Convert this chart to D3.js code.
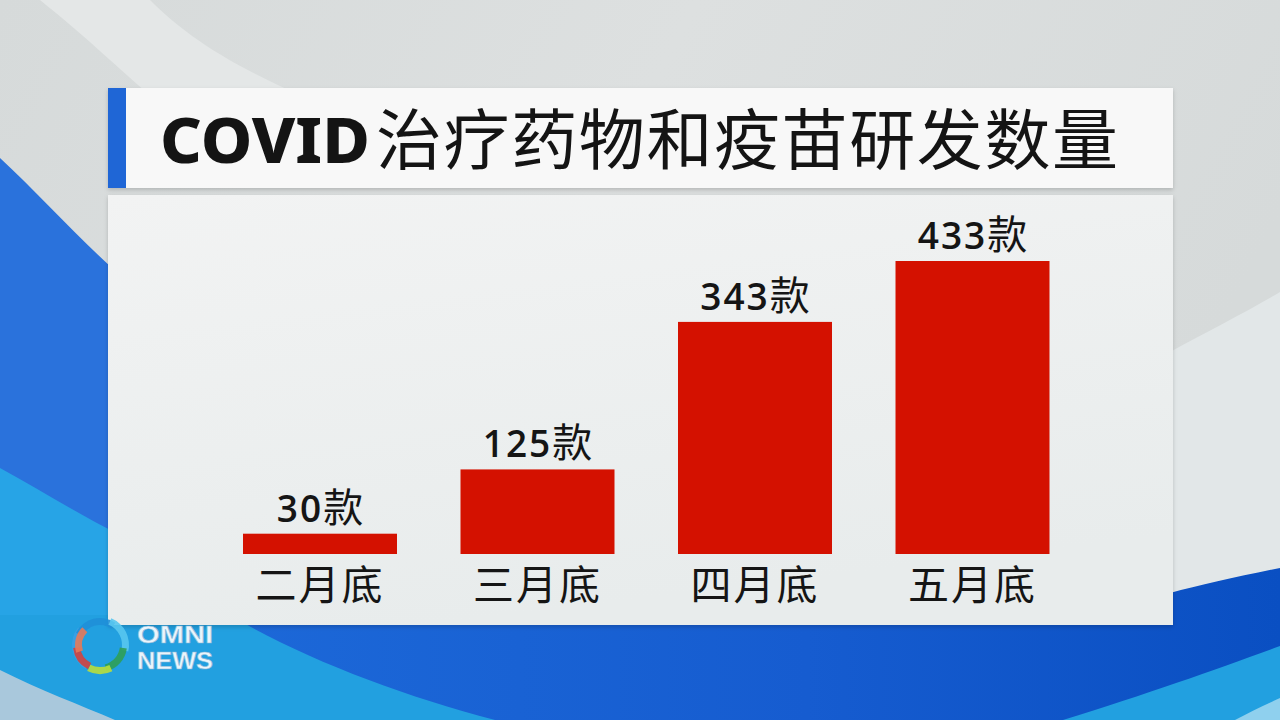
<!DOCTYPE html>
<html><head><meta charset="utf-8">
<script src="https://cdn.jsdelivr.net/npm/d3@7"></script>
<style>html,body{margin:0;padding:0;background:#d9dcdc;overflow:hidden}</style>
</head><body>
<svg id="c" width="1280" height="720"></svg>
<script>
const categories = ["二月底", "三月底", "四月底", "五月底"];
const values = [30, 125, 343, 433];
const unit = "款";
const titleLatin = "COVID";
const titleCJK = "治疗药物和疫苗研发数量";

const svg = d3.select("#c");
const defs = svg.append("defs");

const g1 = defs.append("linearGradient").attr("id","bgTop").attr("x1",0).attr("y1",0).attr("x2",1).attr("y2",0.3);
g1.append("stop").attr("offset","0").attr("stop-color","#d6dada");
g1.append("stop").attr("offset","0.5").attr("stop-color","#dde0e0");
g1.append("stop").attr("offset","1").attr("stop-color","#d6dada");
const gp = defs.append("linearGradient").attr("id","panelG").attr("x1",0).attr("y1",0).attr("x2",0.3).attr("y2",1);
gp.append("stop").attr("offset","0").attr("stop-color","#f2f3f3");
gp.append("stop").attr("offset","1").attr("stop-color","#e8ecec");
const gb = defs.append("linearGradient").attr("id","blueBand").attr("x1",0).attr("y1",0).attr("x2",1).attr("y2",0);
gb.append("stop").attr("offset","0").attr("stop-color","#1c68d8");
gb.append("stop").attr("offset","0.55").attr("stop-color","#165cd0");
gb.append("stop").attr("offset","1").attr("stop-color","#0a4fc2");
const sh = defs.append("filter").attr("id","shadow").attr("x","-5%").attr("y","-5%").attr("width","110%").attr("height","115%");
sh.append("feDropShadow").attr("dx",0).attr("dy",2).attr("stdDeviation",2).attr("flood-color","#000").attr("flood-opacity",0.18);

const bg = svg.append("g");
bg.append("rect").attr("width",1280).attr("height",720).attr("fill","url(#bgTop)");
bg.append("path").attr("d","M40,0 C90,40 120,70 150,95 L300,95 C220,60 180,30 150,0 Z").attr("fill","#e4e7e7");
bg.append("path").attr("d","M1170,352 C1210,330 1250,310 1280,292 L1280,570 C1240,578 1200,588 1170,595 Z").attr("fill","#e2e7e8");
bg.append("path").attr("d","M0,158 C40,195 80,240 120,275 L120,640 L0,640 Z").attr("fill","#2a72dc");
bg.append("path").attr("d","M0,468 C40,490 80,515 120,535 L120,720 L0,720 Z").attr("fill","#27a4e6");
bg.append("rect").attr("x",0).attr("y",615).attr("width",1280).attr("height",105).attr("fill","#22a0e0");
bg.append("path").attr("d","M230,615 C300,657 400,695 495,720 L1063,720 C1150,693 1220,668 1280,646 L1280,568 C1240,576 1200,585 1170,593 L1170,615 Z").attr("fill","url(#blueBand)");
bg.append("path").attr("d","M0,670 C40,690 80,705 115,720 L0,720 Z").attr("fill","#a9c8dc");
bg.append("path").attr("d","M1235,720 C1250,712 1265,705 1280,698 L1280,720 Z").attr("fill","#8fd0ee");

// title panel
svg.append("rect").attr("x",108).attr("y",88).attr("width",1065).attr("height",100).attr("fill","#f8f8f8").attr("filter","url(#shadow)");
svg.append("rect").attr("x",108).attr("y",88).attr("width",18).attr("height",100).attr("fill","#1f66d6");
svg.append("text").attr("x",160).attr("y",163).attr("font-family","'Noto Sans', 'DejaVu Sans', sans-serif")
  .attr("font-weight",800).attr("font-size",62).attr("fill","#141414")
  .attr("textLength",210).attr("lengthAdjust","spacingAndGlyphs").text(titleLatin);
svg.append("text").attr("x",376).attr("y",164).attr("font-family","'Noto Sans CJK SC', sans-serif")
  .attr("font-weight",400).attr("font-size",66).attr("fill","#141414")
  .attr("textLength",742).attr("lengthAdjust","spacing").text(titleCJK);

// chart panel
svg.append("rect").attr("x",108).attr("y",195).attr("width",1065).attr("height",430).attr("fill","url(#panelG)").attr("filter","url(#shadow)");

const x = d3.scaleBand().domain(categories).range([243, 1049.5]).paddingInner(0.292).paddingOuter(0);
const y = d3.scaleLinear().domain([0, 433]).range([554, 261]);

const data = categories.map((c,i)=>({c, v: values[i]}));
const chart = svg.append("g");
chart.selectAll("rect.bar").data(data).join("rect").attr("class","bar")
  .attr("x", d=>x(d.c)).attr("width", x.bandwidth())
  .attr("y", d=>y(d.v)).attr("height", d=>y(0)-y(d.v))
  .attr("fill","#d41100");

const lbl = chart.selectAll("text.val").data(data).join("text").attr("class","val")
  .attr("x", d=>x(d.c)+x.bandwidth()/2).attr("y", d=>y(d.v)-12)
  .attr("text-anchor","middle").attr("fill","#151515");
lbl.append("tspan").attr("font-family","'Open Sans', 'Noto Sans', sans-serif").attr("font-weight",600)
  .attr("font-size",37).attr("letter-spacing",2).text(d=>d.v);
lbl.append("tspan").attr("font-family","'Noto Sans CJK SC', sans-serif").attr("font-weight",400).attr("font-size",40).text(unit);

const xAxis = d3.axisBottom(x).tickSize(0).tickPadding(0);
const ax = chart.append("g").attr("transform","translate(0,554)").call(xAxis);
ax.select(".domain").remove();
ax.selectAll("text").attr("font-family","'Noto Sans CJK SC', sans-serif").attr("font-size",41)
  .attr("fill","#151515").attr("dy",null).attr("y",46).attr("letter-spacing",2);

// OMNI NEWS logo
const logo = svg.append("g").attr("transform","translate(100,645)");
const arcGen = d3.arc();
const arcs = [
  {r0:22,r1:28,s:-2.6,e:-0.9,c:"#3aa0e6"},
  {r0:20,r1:27,s:-1.1,e:0.6,c:"#1f8fd8"},
  {r0:22,r1:29,s:0.4,e:1.8,c:"#58c7f0"},
  {r0:20,r1:27,s:1.7,e:2.9,c:"#2f9e58"},
  {r0:22,r1:29,s:2.7,e:3.6,c:"#b9dd3c"},
  {r0:20,r1:27,s:3.6,e:4.6,c:"#d2413e"},
  {r0:18,r1:25,s:4.4,e:5.5,c:"#e67a5a"}
];
logo.selectAll("path").data(arcs).join("path")
  .attr("d", d=>arcGen({innerRadius:d.r0, outerRadius:d.r1, startAngle:d.s, endAngle:d.e}))
  .attr("fill", d=>d.c).attr("opacity",0.9);
["OMNI","NEWS"].forEach((t,i)=>{
  svg.append("text").attr("x",137).attr("y",643 + i*26)
    .attr("font-family","'Liberation Sans', Arial, sans-serif").attr("font-weight",700)
    .attr("font-size",23).attr("fill","#eaf5fc").attr("stroke","#8ab8d8").attr("stroke-width",0.6)
    .attr("textLength",76).attr("lengthAdjust","spacingAndGlyphs").text(t);
});
</script>
</body></html>
